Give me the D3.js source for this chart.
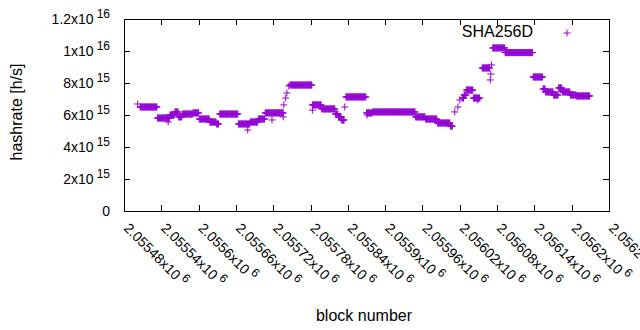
<!DOCTYPE html>
<html>
<head>
<meta charset="utf-8">
<script src="https://cdn.jsdelivr.net/npm/d3@7"></script>
<style>
  body { margin: 0; background: #fff; }
  svg { display: block; font-family: "Liberation Sans", Arial, sans-serif; }
</style>
</head>
<body>
<div id="chart"></div>
<script>
const seriesName = "SHA256D";

// runs of blocks that share one hashrate value: [first block, last block, hashrate]
const runs = [
  [2055502, 2055502, 6.69e15],
  [2055506, 2055533, 6.5e15],
  [2055534, 2055553, 5.81e15],
  [2055551, 2055551, 5.56e15],
  [2055554, 2055561, 6.0e15],
  [2055562, 2055567, 6.19e15],
  [2055568, 2055573, 5.88e15],
  [2055574, 2055590, 6.06e15],
  [2055591, 2055600, 6.13e15],
  [2055601, 2055617, 5.75e15],
  [2055618, 2055628, 5.56e15],
  [2055629, 2055632, 5.44e15],
  [2055634, 2055663, 6.06e15],
  [2055664, 2055682, 5.44e15],
  [2055679, 2055679, 5.06e15],
  [2055683, 2055695, 5.56e15],
  [2055696, 2055706, 5.75e15],
  [2055707, 2055736, 6.13e15],
  [2055718, 2055718, 5.69e15],
  [2055736, 2055736, 5.88e15],
  [2055737, 2055737, 6.63e15],
  [2055740, 2055740, 7.06e15],
  [2055742, 2055742, 7.38e15],
  [2055745, 2055745, 7.81e15],
  [2055747, 2055782, 7.875e15],
  [2055783, 2055797, 6.63e15],
  [2055783, 2055783, 6.31e15],
  [2055798, 2055819, 6.38e15],
  [2055820, 2055824, 6.06e15],
  [2055825, 2055829, 5.88e15],
  [2055830, 2055834, 5.69e15],
  [2055835, 2055835, 6.5e15],
  [2055837, 2055869, 7.13e15],
  [2055870, 2055879, 6.13e15],
  [2055871, 2055871, 6.0e15],
  [2055880, 2055948, 6.19e15],
  [2055949, 2055964, 5.88e15],
  [2055965, 2055983, 5.75e15],
  [2055984, 2056004, 5.5e15],
  [2056005, 2056008, 5.31e15],
  [2056012, 2056012, 6.19e15],
  [2056017, 2056017, 6.5e15],
  [2056020, 2056020, 6.94e15],
  [2056024, 2056026, 7.06e15],
  [2056027, 2056030, 7.25e15],
  [2056031, 2056041, 7.56e15],
  [2056042, 2056052, 7.06e15],
  [2056049, 2056049, 6.94e15],
  [2056056, 2056068, 8.94e15],
  [2056069, 2056069, 8.19e15],
  [2056070, 2056070, 8.56e15],
  [2056071, 2056071, 9.13e15],
  [2056073, 2056092, 10.19e15],
  [2056093, 2056137, 9.9e15],
  [2056138, 2056153, 8.375e15],
  [2056154, 2056157, 7.63e15],
  [2056158, 2056170, 7.44e15],
  [2056171, 2056178, 7.25e15],
  [2056179, 2056184, 7.69e15],
  [2056185, 2056197, 7.44e15],
  [2056198, 2056207, 7.25e15],
  [2056208, 2056229, 7.19e15]
];

const xTicks = [2055480, 2055540, 2055600, 2055660, 2055720, 2055780, 2055840,
                2055900, 2055960, 2056020, 2056080, 2056140, 2056200, 2056260];
const xTickMant = ["2.05548", "2.05554", "2.0556", "2.05566", "2.05572", "2.05578", "2.05584",
                   "2.0559", "2.05596", "2.05602", "2.05608", "2.05614", "2.0562", "2.05626"];
const xTickExp = ["6", "6", "6", "6", "6", "6", "6", "6", "6", "6", "6", "6", "6", "6"];

const yTicks = [0, 2e15, 4e15, 6e15, 8e15, 1e16, 1.2e16];
const yTickMant = ["0", "2", "4", "6", "8", "1", "1.2"];
const yTickExp = ["", "15", "15", "15", "15", "16", "16"];

const xLabel = "block number";
const yLabel = "hashrate [h/s]";

// --- layout ---
const width = 640, height = 330;
const margin = { top: 19, right: 31, bottom: 119, left: 124 };
const color = "#9400d3";

const svg = d3.select("#chart").append("svg")
    .attr("width", width)
    .attr("height", height);

const x = d3.scaleLinear()
    .domain([2055480, 2056260])
    .range([margin.left, width - margin.right]);

const y = d3.scaleLinear()
    .domain([0, 1.2e16])
    .range([height - margin.bottom, margin.top]);

// expand runs into one point per block
let points = [];
runs.forEach(r => {
  for (let b = r[0]; b <= r[1]; b++) points.push({ block: b, value: r[2] });
});

// --- ticks on all four sides, pointing inward ---
const tickLen = 6;
const axes = [
  svg.append("g").attr("transform", `translate(0,${y(0)})`)
     .call(d3.axisBottom(x).tickValues(xTicks).tickSize(-tickLen).tickFormat("")),
  svg.append("g").attr("transform", `translate(0,${y(1.2e16)})`)
     .call(d3.axisTop(x).tickValues(xTicks).tickSize(-tickLen).tickFormat("")),
  svg.append("g").attr("transform", `translate(${x.range()[0]},0)`)
     .call(d3.axisLeft(y).tickValues(yTicks).tickSize(-tickLen).tickFormat("")),
  svg.append("g").attr("transform", `translate(${x.range()[1]},0)`)
     .call(d3.axisRight(y).tickValues(yTicks).tickSize(-tickLen).tickFormat(""))
];
axes.forEach(g => {
  g.select(".domain").remove();
  g.selectAll("line").attr("stroke", "#000").attr("shape-rendering", "crispEdges");
});

// frame
svg.append("rect")
    .attr("x", x.range()[0] + 0.5)
    .attr("y", y.range()[1] + 0.5)
    .attr("width", x.range()[1] - x.range()[0])
    .attr("height", y.range()[0] - y.range()[1])
    .attr("fill", "none")
    .attr("stroke", "#000")
    .attr("shape-rendering", "crispEdges");

// --- y tick labels ---
yTicks.forEach((v, i) => {
  const t = svg.append("text")
      .attr("x", x.range()[0] - 14)
      .attr("y", y(v) + 5)
      .attr("text-anchor", "end")
      .style("font-size", "14px");
  t.append("tspan").text(yTickMant[i]);
  if (yTickExp[i]) {
    t.append("tspan").text("x10");
    t.append("tspan").attr("dx", 3).attr("dy", -6).style("font-size", "12px").text(yTickExp[i]);
  }
});

// --- x tick labels, rotated ---
xTicks.forEach((v, i) => {
  const t = svg.append("text")
      .attr("transform", `translate(${x(v) - 1},229) rotate(45)`)
      .style("font-size", "14px");
  t.append("tspan").text(xTickMant[i] + "x10");
  t.append("tspan").attr("dx", 3).attr("dy", -6).style("font-size", "12px").text(xTickExp[i]);
});

// --- axis titles ---
svg.append("text")
    .attr("x", 364)
    .attr("y", 321)
    .attr("text-anchor", "middle")
    .style("font-size", "16px")
    .text(xLabel);

svg.append("text")
    .attr("transform", "translate(22,112) rotate(-90)")
    .attr("text-anchor", "middle")
    .style("font-size", "16px")
    .text(yLabel);

// --- points ---
const plus = "M-3.5,0H3.5M0,-3.5V3.5";
svg.append("g")
  .selectAll("path")
  .data(points)
  .join("path")
    .attr("d", plus)
    .attr("transform", d => `translate(${x(d.block)},${y(d.value)})`)
    .attr("stroke", color)
    .attr("stroke-width", 1)
    .attr("fill", "none");

// --- legend ---
svg.append("text")
    .attr("x", 533)
    .attr("y", 37)
    .attr("text-anchor", "end")
    .style("font-size", "16px")
    .text(seriesName);

svg.append("path")
    .attr("d", plus)
    .attr("transform", "translate(567,33)")
    .attr("stroke", color)
    .attr("stroke-width", 1)
    .attr("fill", "none");
</script>
</body>
</html>
